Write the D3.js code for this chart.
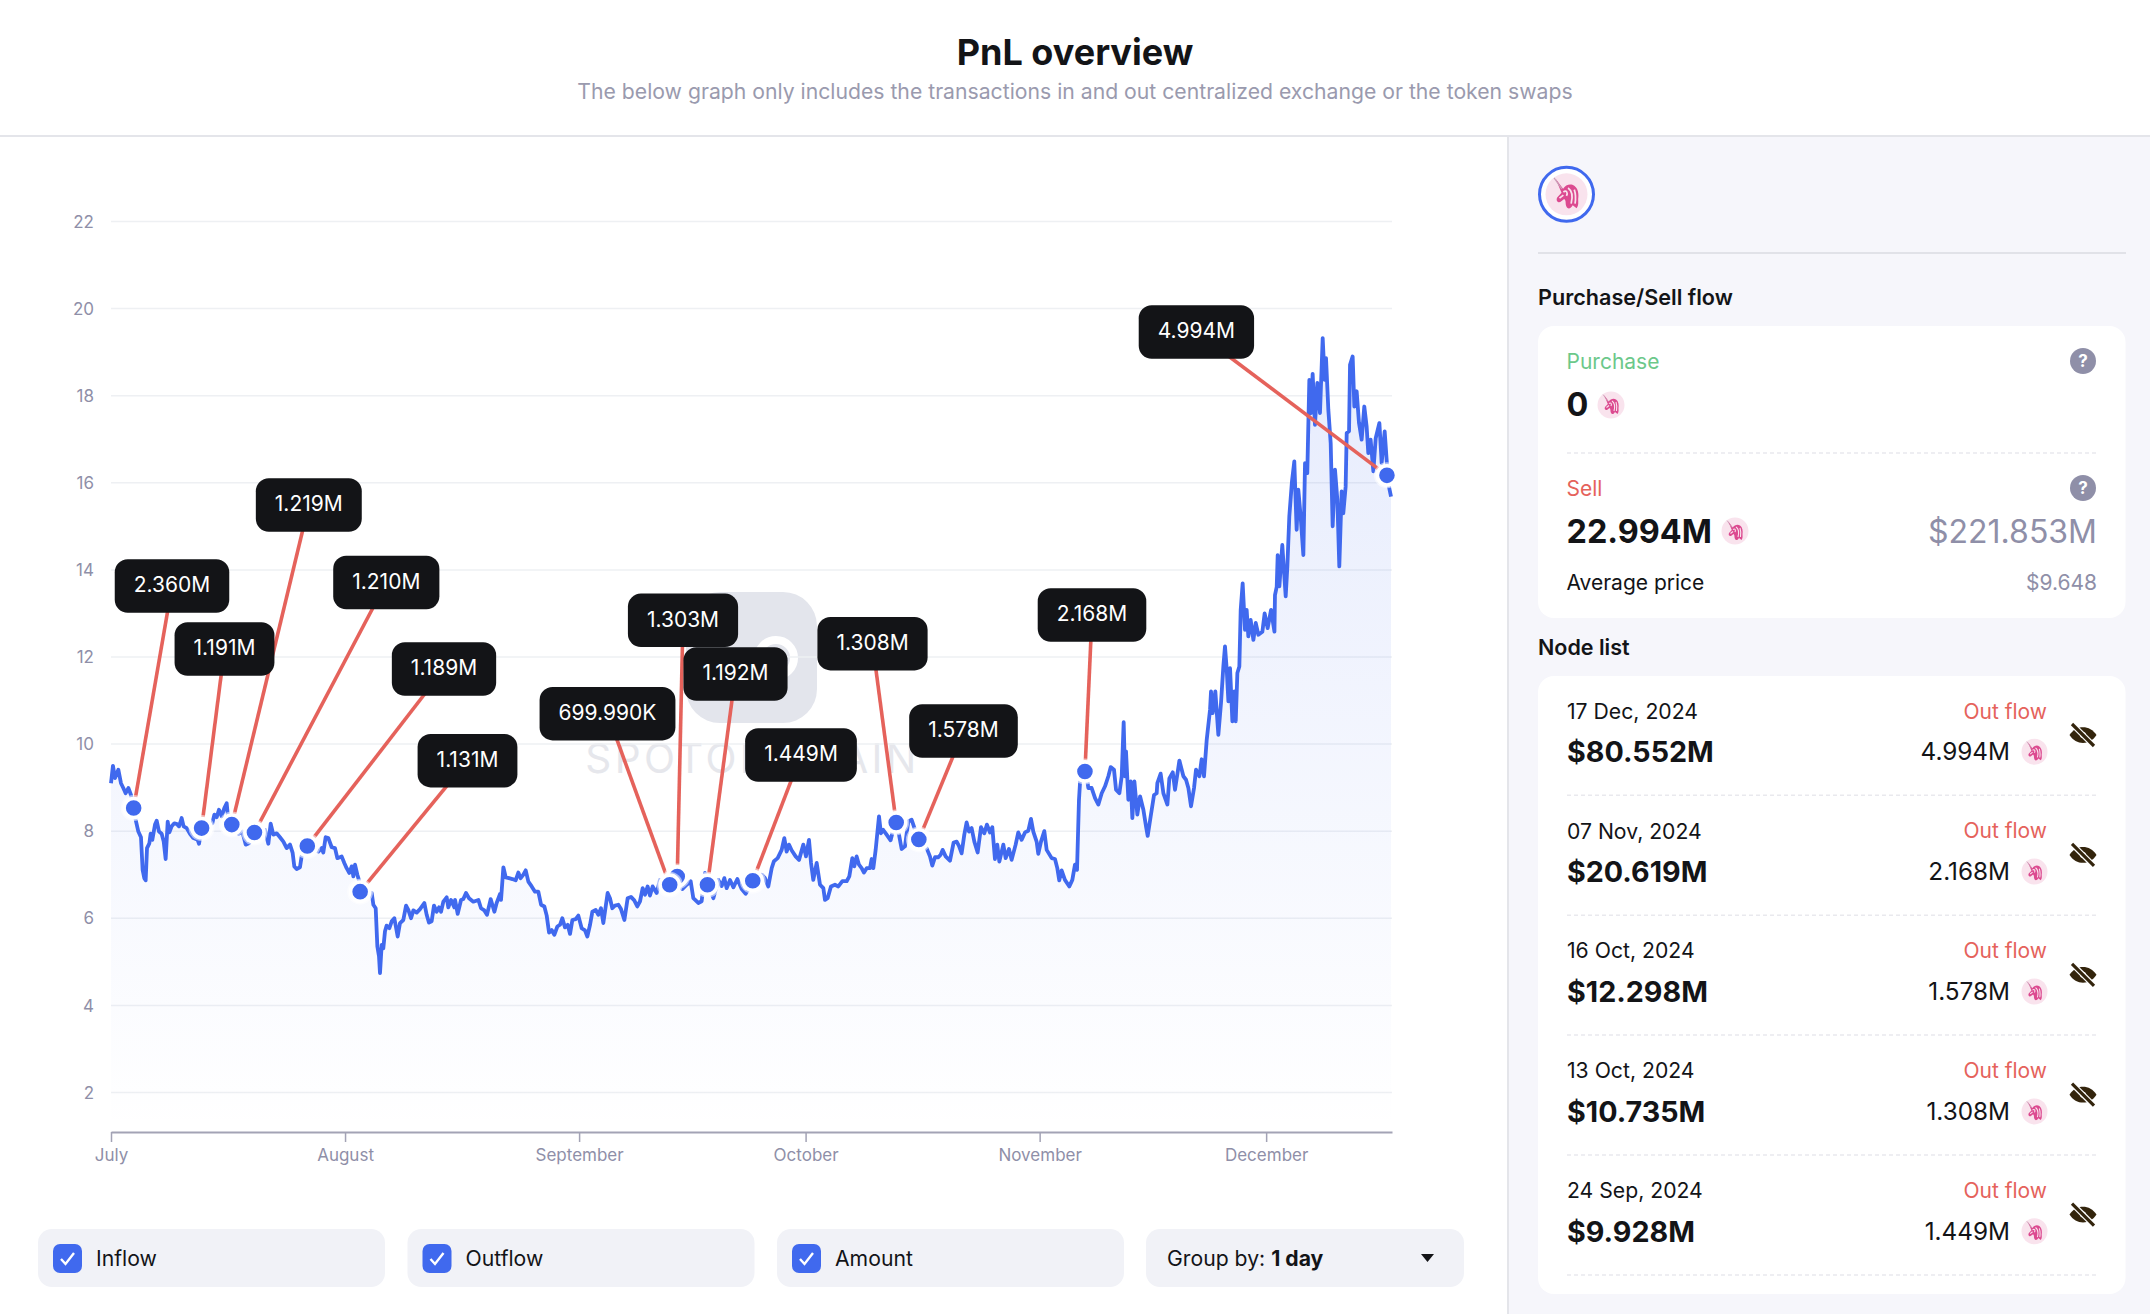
<!DOCTYPE html>
<html>
<head>
<meta charset="utf-8">
<script src="https://cdn.jsdelivr.net/npm/d3@7"></script>
<style>
  body { margin: 0; background: #fff; }
  svg { display: block; font-family: Inter, "Noto Sans", sans-serif; }
</style>
</head>
<body>
<svg id="chart" width="2150" height="1314"></svg>
<script>
// price readings: [days since 1 Jul 2024, UNI price in $]
const pricesJuly = [[0,9.09],[0.26,9.49],[0.53,9.21],[0.97,9.40],[1.32,9.09],[1.63,8.98],[1.94,8.86],[2.30,8.98],[2.65,8.82],[2.96,8.52],[3.27,8.25],[3.62,7.98],[3.97,7.85],[4.19,7.10],[4.41,6.91],[4.59,6.86],[4.77,7.60],[5.08,7.71],[5.25,7.93],[5.47,7.79],[5.83,8.14],[6.05,8.23],[6.36,7.98],[6.71,7.93],[6.98,7.75],[7.24,7.35],[7.51,8.21],[7.73,7.96],[8.03,8.10],[8.39,8.17],[8.74,8.15],[9.01,8.10],[9.36,8.29],[9.62,8.10],[10.02,8.06],[10.46,7.93],[10.90,7.83],[11.48,7.79],[11.66,7.70],[12.01,8.06],[12.67,8.14],[13.42,8.17],[13.69,8.37],[14.0,8.31],[14.30,8.48],[14.66,8.33],[15.01,8.52],[15.32,8.63],[15.45,8.40],[16.07,8.14],[16.87,7.93],[17.39,7.98],[17.84,7.68],[18.28,7.71],[19.07,7.96],[20.40,8.02],[20.84,7.70],[21.15,8.16],[21.50,7.91],[21.94,7.94],[22.38,7.85],[22.83,7.75],[23.27,7.60],[23.71,7.68],[24.06,7.49],[24.28,7.18],[24.59,7.12],[25.03,7.16],[25.25,7.41],[26.14,7.65],[27.46,7.52],[27.90,7.60],[28.12,7.50],[28.43,7.85],[28.79,7.83],[29.23,7.62],[29.67,7.60],[29.98,7.37],[30.55,7.41],[30.90,7.26]];
const pricesAugust = [[31.21,7.14],[31.57,7.03],[31.88,7.18],[32.10,6.95],[32.32,7.22],[32.63,6.99],[32.85,6.86],[33.11,6.60],[34.53,6.57],[34.75,6.30],[35.06,6.22],[35.28,5.34],[35.50,5.11],[35.63,4.73],[35.85,5.38],[36.07,5.30],[36.29,5.69],[36.51,5.82],[36.87,5.76],[37.18,5.92],[37.53,5.99],[37.97,5.57],[38.28,5.88],[38.72,5.95],[39.08,6.28],[39.38,6.18],[39.74,5.99],[40.05,6.17],[40.49,6.12],[40.93,6.20],[41.50,6.34],[41.81,6.07],[42.12,5.89],[42.47,5.92],[42.78,6.28],[43.14,6.14],[43.45,6.24],[43.71,6.14],[44.02,6.37],[44.46,6.47],[44.68,6.24],[45.04,6.41],[45.48,6.24],[45.57,6.41],[45.92,6.09],[46.36,6.41],[46.67,6.43],[47.02,6.57],[47.42,6.45],[47.99,6.37],[48.66,6.41],[49.01,6.22],[49.45,6.17],[49.80,6.07],[50.29,6.43],[50.78,6.14],[51.08,6.34],[51.53,6.55],[51.66,6.41],[51.97,7.16],[52.28,6.93],[52.72,6.91],[53.16,6.89],[53.60,6.86],[53.95,7.04],[54.26,6.91],[54.62,6.99],[54.93,7.09],[55.28,6.83],[55.72,6.72],[56.16,6.60],[56.60,6.60],[56.96,6.30],[57.40,6.26],[57.71,6.05],[58.02,5.66],[58.37,5.72],[58.72,5.61],[59.12,5.80],[59.47,5.84],[59.78,5.99],[60.13,5.78],[60.49,5.84],[60.80,5.63],[61.11,5.95],[61.55,5.97],[61.90,6.05]];
const pricesSeptember = [[62.34,5.76],[62.78,5.71],[63.09,5.57],[63.45,5.84],[63.76,6.14],[64.20,6.18],[64.55,6.07],[64.90,6.22],[65.21,5.88],[65.78,6.57],[66.09,6.45],[66.40,6.22],[66.75,6.28],[67.20,6.30],[67.55,6.20],[68.0,5.95],[68.43,6.45],[68.87,6.48],[69.31,6.40],[69.71,6.26],[70.07,6.38],[70.42,6.68],[70.73,6.53],[71.08,6.72],[71.39,6.51],[71.74,6.72],[72.27,6.57],[72.71,6.87],[73.16,6.76],[74.04,6.76],[75.05,6.95],[75.67,6.66],[76.25,6.76],[76.78,6.84],[77.13,6.45],[77.79,6.34],[78.23,6.38],[78.67,7.03],[79.12,6.76],[79.78,6.45],[80.44,6.87],[80.88,6.73],[81.24,6.91],[81.54,6.68],[81.99,6.87],[82.43,6.70],[82.96,6.89],[83.53,6.66],[84.06,6.55],[85.08,6.85],[86.18,6.99],[86.62,6.91],[87.06,6.72],[87.51,7.14],[87.81,7.30],[88.30,7.37],[88.83,7.56],[89.18,7.83],[89.49,7.52],[89.80,7.68],[90.15,7.55],[90.68,7.41],[91.13,7.33],[91.70,7.68]];
const pricesOctober = [[92.05,7.41],[92.45,7.79],[92.72,7.26],[93.02,6.87],[93.47,7.26],[93.91,6.76],[94.35,6.68],[94.57,6.41],[94.92,6.45],[95.36,6.72],[95.89,6.76],[96.34,6.72],[96.87,6.84],[97.44,6.84],[97.79,6.95],[98.19,7.37],[98.45,7.18],[98.76,7.41],[99.07,7.22],[99.42,7.14],[99.73,7.04],[100.09,7.14],[100.53,7.14],[100.75,7.35],[100.97,7.14],[101.28,7.56],[101.72,8.33],[101.98,7.94],[102.29,8.02],[102.73,7.91],[103.26,7.78],[103.84,8.19],[104.37,7.91],[104.72,7.58],[105.16,7.64],[105.6,8.21],[106.05,8.25],[106.93,7.80],[108.03,7.60],[108.47,7.41],[108.78,7.20],[109.14,7.39],[109.58,7.39],[109.89,7.45],[110.15,7.56],[110.55,7.41],[111.12,7.31],[111.61,7.73],[112.01,7.75],[112.31,7.65],[112.67,7.48],[113.02,7.91],[113.33,8.19],[113.64,7.98],[113.99,8.06],[114.35,7.75],[114.79,7.50],[115.23,8.08],[115.67,7.94],[116.02,8.14],[116.42,7.96],[116.73,8.08],[117.08,7.35],[117.39,7.68],[117.66,7.29],[118.19,7.68],[118.50,7.37],[118.94,7.58],[119.29,7.33],[119.82,7.68],[120.17,7.96],[120.62,7.79],[121.06,7.96],[121.50,8.0],[121.85,8.27],[122.16,7.98],[122.60,7.75],[122.82,7.47]];
const pricesNovember = [[123.18,7.75],[123.62,7.99],[123.93,7.56],[124.59,7.37],[125.03,7.35],[125.34,7.14],[125.60,6.86],[125.91,7.09],[126.35,6.87],[126.93,6.72],[127.33,6.87],[127.68,7.22],[127.95,7.10],[128.21,8.71],[128.44,9.36],[129.14,9.36],[129.45,8.98],[129.89,8.98],[130.34,8.75],[130.78,8.60],[131.22,8.86],[131.66,9.02],[132.10,9.25],[132.41,9.46],[132.85,9.40],[133.12,8.94],[133.56,8.86],[133.87,9.25],[134.13,10.49],[134.31,9.25],[134.44,9.82],[134.75,8.71],[135.06,9.13],[135.28,8.29],[135.55,9.13],[135.94,8.37],[136.30,8.79],[136.74,8.48],[137.09,8.10],[137.31,7.88],[137.71,8.33],[138.15,8.82],[138.50,8.86],[138.59,9.09],[139.03,9.31],[139.39,8.86],[139.92,8.60],[140.18,9.20],[140.63,9.34],[140.93,8.94],[141.51,9.61],[142.04,9.25],[142.39,9.17],[142.70,8.98],[143.05,8.56],[143.45,8.98],[143.71,9.40],[144.16,9.25],[144.46,9.64],[144.77,9.25],[145.13,10.09],[145.57,10.78],[145.70,11.20],[145.92,10.70],[146.27,11.20],[146.67,10.20],[147.02,10.93],[147.33,11.77],[147.55,12.23],[147.78,11.70],[148.0,10.97],[148.22,11.73],[148.53,10.51],[148.79,11.20],[148.97,10.51],[149.19,11.62],[149.45,11.77],[149.63,13.07],[149.89,13.68],[150.20,12.61],[150.42,13.07],[150.64,12.46],[150.95,12.84],[151.31,12.38],[151.62,12.77],[151.97,12.50],[152.5,12.57],[152.8,12.99]];
const pricesDecember = [[153.2,12.65],[153.65,13.07],[154.1,12.57],[154.17,13.41],[154.4,13.6],[154.53,14.33],[154.75,13.61],[155.14,14.56],[155.59,13.38],[155.81,14.07],[156.07,15.22],[156.42,16.02],[156.73,16.48],[157.04,14.91],[157.26,15.83],[157.57,15.22],[157.93,14.33],[158.15,16.44],[158.45,16.21],[158.72,18.35],[158.94,17.59],[159.16,18.49],[159.47,17.32],[159.78,18.28],[160.13,17.59],[160.49,19.31],[160.75,18.35],[160.93,18.85],[161.24,17.66],[161.55,16.90],[161.81,14.99],[162.12,16.29],[162.43,15.60],[162.69,14.07],[163.0,15.79],[163.22,15.29],[163.53,15.90],[163.67,17.13],[163.98,17.17],[164.11,18.70],[164.46,18.89],[164.68,17.74],[164.99,18.09],[165.30,17.36],[165.65,16.98],[166.0,17.74],[166.31,17.28],[166.53,16.67],[166.84,16.98],[167.2,16.25],[167.51,17.01],[168.0,17.36],[168.3,16.44],[168.7,17.17],[169.05,16.29],[169.3,15.87],[169.54,15.67]];

// nodes on the line
const nodeDays = [3, 12, 16, 19, 26, 33, 74, 75, 79, 85, 104, 107, 129, 169];
const nodePrices = [8.52, 8.06, 8.14, 7.96, 7.65, 6.60, 6.76, 6.95, 6.76, 6.85, 8.19, 7.80, 9.36, 16.16];
const nodeAmounts = ["2.360M", "1.191M", "1.219M", "1.210M", "1.189M", "1.131M", "699.990K", "1.303M", "1.192M", "1.449M", "1.308M", "1.578M", "2.168M", "4.994M"];

const yTicks = [2, 4, 6, 8, 10, 12, 14, 16, 18, 20, 22];
const monthDays = [0, 31, 62, 92, 123, 153];
const monthLabels = ["July", "August", "September", "October", "November", "December"];

const filterLabels = ["Inflow", "Outflow", "Amount"];

const listDates = ["17 Dec, 2024", "07 Nov, 2024", "16 Oct, 2024", "13 Oct, 2024", "24 Sep, 2024"];
const listUsd = ["$80.552M", "$20.619M", "$12.298M", "$10.735M", "$9.928M"];
const listAmounts = ["4.994M", "2.168M", "1.578M", "1.308M", "1.449M"];

const BLUE = "#4069ee";
const RED = "#e5625b";
const MUTED = "#8f8fa8";
const INK = "#131417";

const svg = d3.select("#chart");
const start = Date.UTC(2024, 6, 1);
const toDate = d => new Date(start + d * 864e5);

const prices = [].concat(pricesJuly, pricesAugust, pricesSeptember, pricesOctober, pricesNovember, pricesDecember)
  .map(d => ({ date: toDate(d[0]), price: d[1] }));

const xScale = d3.scaleUtc().domain([toDate(0), toDate(169.67)]).range([111, 1392]);
const yScale = d3.scaleLinear().domain([2, 22]).range([1092, 221]);
const chartBottom = 1132;

// header
svg.append("rect").attr("x", 1508).attr("y", 136).attr("width", 642).attr("height", 1178).attr("fill", "#f6f6fb");
svg.append("line").attr("x1", 0).attr("x2", 2150).attr("y1", 136).attr("y2", 136).attr("stroke", "#e4e5ea").attr("stroke-width", 2);
svg.append("line").attr("x1", 1508).attr("x2", 1508).attr("y1", 136).attr("y2", 1314).attr("stroke", "#e4e5ea").attr("stroke-width", 2);

svg.append("text").attr("x", 1075).attr("y", 52).attr("dy", ".36em")
  .attr("text-anchor", "middle").attr("font-size", 36).attr("font-weight", 700).attr("fill", INK)
  .text("PnL overview");
svg.append("text").attr("x", 1075).attr("y", 91.4).attr("dy", ".36em")
  .attr("text-anchor", "middle").attr("font-size", 21.2).attr("fill", "#9a9aae")
  .text("The below graph only includes the transactions in and out centralized exchange or the token swaps");

// watermark
const mark = svg.append("g");
mark.append("rect").attr("x", 686).attr("y", 592).attr("width", 131).attr("height", 131).attr("rx", 34).attr("fill", "#e3e5ec");
mark.append("circle").attr("cx", 776).attr("cy", 658).attr("r", 18).attr("fill", "none").attr("stroke", "#fff").attr("stroke-width", 8);
mark.append("text").attr("x", 752.5).attr("y", 773).attr("text-anchor", "middle")
  .attr("font-size", 40.5).attr("letter-spacing", 3.4).attr("fill", "#e6e7ec").text("SPOTONCHAIN");

// grid + y labels
const yAxis = d3.axisLeft(yScale).tickValues(yTicks).tickSize(-(1392 - 111)).tickPadding(17).tickFormat(d3.format("d"));
const yG = svg.append("g").attr("transform", "translate(111,0)").call(yAxis);
yG.select(".domain").remove();
yG.selectAll("line").attr("stroke", "#eef0f3").attr("stroke-width", 1.5);
yG.selectAll("text").attr("fill", MUTED).attr("font-size", 17).attr("font-family", "Inter").attr("dy", ".36em");

// area under the price
const defs = svg.append("defs");
const grad = defs.append("linearGradient").attr("id", "areaFill")
  .attr("gradientUnits", "userSpaceOnUse").attr("x1", 0).attr("x2", 0).attr("y1", 340).attr("y2", chartBottom);
grad.append("stop").attr("offset", 0).attr("stop-color", BLUE).attr("stop-opacity", 0.13);
grad.append("stop").attr("offset", 1).attr("stop-color", BLUE).attr("stop-opacity", 0);

const area = d3.area().x(d => xScale(d.date)).y0(chartBottom).y1(d => yScale(d.price));
const line = d3.line().x(d => xScale(d.date)).y(d => yScale(d.price));

svg.append("path").datum(prices).attr("d", area).attr("fill", "url(#areaFill)");
svg.append("path").datum(prices).attr("d", line)
  .attr("fill", "none").attr("stroke", BLUE).attr("stroke-width", 3.8).attr("stroke-linejoin", "round");

// x axis
const xAxis = d3.axisBottom(xScale).tickValues(monthDays.map(toDate)).tickSize(10).tickSizeOuter(0).tickPadding(7)
  .tickFormat((d, i) => monthLabels[i]);
const xG = svg.append("g").attr("transform", `translate(0,${chartBottom})`).call(xAxis);
xG.select(".domain").attr("stroke", "#a3a3b5").attr("stroke-width", 2);
xG.selectAll("line").attr("stroke", "#a3a3b5").attr("stroke-width", 1.5);
xG.selectAll("text").attr("fill", MUTED).attr("font-size", 17).attr("font-family", "Inter");

// callouts, centres of the labels placed by hand
const calloutCenters = [[172, 586], [224.5, 649], [308.8, 505], [386.3, 582.5], [444, 669], [467.5, 760.7], [607.5, 713.7], [683, 620.3], [735.5, 674], [801, 755], [872.5, 643.7], [963.5, 731], [1092, 615], [1196.4, 332]];
const nodes = nodeDays.map((d, i) => ({
  x: xScale(toDate(d)), y: yScale(nodePrices[i]), label: nodeAmounts[i], cx: calloutCenters[i][0], cy: calloutCenters[i][1]
}));

svg.append("g").selectAll("line").data(nodes).enter().append("line")
  .attr("x1", d => d.cx).attr("y1", d => d.cy).attr("x2", d => d.x).attr("y2", d => d.y)
  .attr("stroke", RED).attr("stroke-width", 3.6);

// later dates go underneath
const dots = svg.append("g").selectAll("g").data(nodes.slice().reverse()).enter().append("g")
  .attr("transform", d => `translate(${d.x},${d.y})`);
dots.append("circle").attr("r", 13).attr("fill", "#fff").attr("opacity", 0.55);
dots.append("circle").attr("r", 9.6).attr("fill", BLUE).attr("stroke", "#fff").attr("stroke-width", 3.6);

const boxes = svg.append("g").selectAll("g").data(nodes).enter().append("g")
  .attr("transform", d => `translate(${d.cx},${d.cy})`);
boxes.append("text").attr("text-anchor", "middle").attr("dy", ".3em")
  .attr("font-size", 21).attr("fill", "#fff").text(d => d.label);
boxes.insert("rect", "text")
  .each(function (d) { d.w = this.parentNode.querySelector("text").getComputedTextLength() + 38; })
  .attr("x", d => -d.w / 2).attr("y", -26.7).attr("width", d => d.w).attr("height", 53.4)
  .attr("rx", 13).attr("fill", INK);

// filter chips
const chipX = d3.scalePoint().domain(filterLabels).range([38, 777]);
const chips = svg.append("g").selectAll("g").data(filterLabels).enter().append("g")
  .attr("transform", d => `translate(${chipX(d)},1229)`);
chips.append("rect").attr("width", 347).attr("height", 58).attr("rx", 14).attr("fill", "#f1f2f7");
chips.append("rect").attr("x", 15).attr("y", 15).attr("width", 29).attr("height", 29).attr("rx", 7).attr("fill", BLUE);
chips.append("path").attr("d", "M23 30 L27.5 35 L36 24").attr("fill", "none").attr("stroke", "#fff").attr("stroke-width", 2.4);
chips.append("text").attr("x", 58).attr("y", 29).attr("dy", ".36em").attr("font-size", 21.2).attr("fill", INK).text(d => d);

const group = svg.append("g").attr("transform", "translate(1146,1229)");
group.append("rect").attr("width", 318).attr("height", 58).attr("rx", 14).attr("fill", "#f1f2f7");
const groupText = group.append("text").attr("x", 21).attr("y", 29).attr("dy", ".36em").attr("font-size", 21.2).attr("fill", INK);
groupText.append("tspan").text("Group by: ");
groupText.append("tspan").attr("font-weight", 700).text("1 day");
group.append("path").attr("d", "M275 25 L288 25 L281.5 33 Z").attr("fill", INK);

// right panel bits
function tokenIcon(parent, x, y, r) {
  const g = parent.append("g").attr("transform", `translate(${x},${y}) scale(${r / 13.5})`);
  g.append("circle").attr("r", 13.5).attr("fill", "#f9e3ed");
  g.append("path")
    .attr("d", "M-7 -10 L-2.2 -3.5 C-0.5 -6.5 3 -7 5 -5.5 C7.5 -3.8 8 0 7.5 3 C7.5 5 8 7 6.5 9 L4 7 C3 9 1 10 0 8 C-1 6 0 4 -1.5 3 L-4 5 C-5.5 5.5 -7 4 -6 2 L-3.2 -1 Z")
    .attr("fill", "#dc4a90");
  // pale cuts so the head does not read as a solid blob
  g.append("path").attr("d", "M-2 -1.5 C0 -3 1 -1 0 1 M1 -4 C4 -2 4 2 3 6 M5 -3 C6 0 6 3 5.5 6 M-4.5 2.5 L-2 0.5")
    .attr("fill", "none").attr("stroke", "#f9e3ed").attr("stroke-width", 1.1);
  g.append("line").attr("x1", -8).attr("y1", -10.5).attr("x2", -3).attr("y2", -3.5).attr("stroke", "#c9a0b8").attr("stroke-width", 0.8);
}

function helpIcon(parent, x, y) {
  parent.append("circle").attr("cx", x).attr("cy", y).attr("r", 13).attr("fill", MUTED);
  parent.append("text").attr("x", x).attr("y", y).attr("dy", ".36em").attr("text-anchor", "middle")
    .attr("font-size", 17).attr("font-weight", 700).attr("fill", "#fff").text("?");
}

function eyeOff(parent, x, y) {
  const g = parent.append("g").attr("transform", `translate(${x},${y})`);
  g.append("path").attr("d", "M-13.5 0 C-7 -10.5 7 -10.5 13.5 0 C7 10.5 -7 10.5 -13.5 0 Z").attr("fill", "#33240c");
  g.append("circle").attr("r", 3).attr("fill", "#fff");
  g.append("line").attr("x1", -11).attr("y1", -11).attr("x2", 11).attr("y2", 11).attr("stroke", "#fff").attr("stroke-width", 5.6);
  g.append("line").attr("x1", -11).attr("y1", -11).attr("x2", 11).attr("y2", 11).attr("stroke", "#33240c").attr("stroke-width", 3.2);
}

function label(parent, x, y, txt, size, color, weight, anchor) {
  return parent.append("text").attr("x", x).attr("y", y).attr("dy", ".36em")
    .attr("font-size", size).attr("fill", color).attr("font-weight", weight || 400)
    .attr("text-anchor", anchor || "start").text(txt);
}

function dashed(parent, y) {
  parent.append("line").attr("x1", 1567).attr("x2", 2097).attr("y1", y).attr("y2", y)
    .attr("stroke", "#e9e9ee").attr("stroke-width", 1.5).attr("stroke-dasharray", "4 3");
}

const side = svg.append("g");
side.append("circle").attr("cx", 1566.5).attr("cy", 194.3).attr("r", 27).attr("fill", "#fff").attr("stroke", BLUE).attr("stroke-width", 3);
tokenIcon(side, 1566.5, 194.3, 21);
side.append("line").attr("x1", 1538).attr("x2", 2126).attr("y1", 253).attr("y2", 253).attr("stroke", "#e1e2e8").attr("stroke-width", 2);

label(side, 1538, 297, "Purchase/Sell flow", 21.6, INK, 600);
side.append("rect").attr("x", 1538).attr("y", 326).attr("width", 587.5).attr("height", 292).attr("rx", 16).attr("fill", "#fff");
label(side, 1566.5, 361, "Purchase", 21, "#6cc88a");
helpIcon(side, 2083, 361);
label(side, 1566.5, 404, "0", 32.4, INK, 700);
tokenIcon(side, 1611, 405, 13.5);
dashed(side, 453);
label(side, 1566.5, 488, "Sell", 21, RED);
helpIcon(side, 2083, 488);
label(side, 1566.5, 531, "22.994M", 32.4, INK, 700);
tokenIcon(side, 1735, 531, 13.5);
label(side, 2097, 531, "$221.853M", 32, MUTED, 400, "end");
label(side, 1566.5, 582, "Average price", 21, INK);
label(side, 2097, 582, "$9.648", 21, MUTED, 400, "end");

label(side, 1538, 647, "Node list", 21.5, INK, 600);
side.append("rect").attr("x", 1538).attr("y", 676).attr("width", 587.5).attr("height", 618).attr("rx", 16).attr("fill", "#fff");

listDates.forEach((d, i) => {
  const off = i * 119.9;
  label(side, 1567, 711 + off, d, 21.2, INK);
  label(side, 1567, 751.7 + off, listUsd[i], 28.7, INK, 700);
  label(side, 2047, 711 + off, "Out flow", 21, RED, 400, "end");
  label(side, 2010, 751.7 + off, listAmounts[i], 24.3, INK, 400, "end");
  tokenIcon(side, 2034.5, 751.7 + off, 13);
  eyeOff(side, 2083, 735 + off);
  dashed(side, 795.3 + off);
});
</script>
</body>
</html>
